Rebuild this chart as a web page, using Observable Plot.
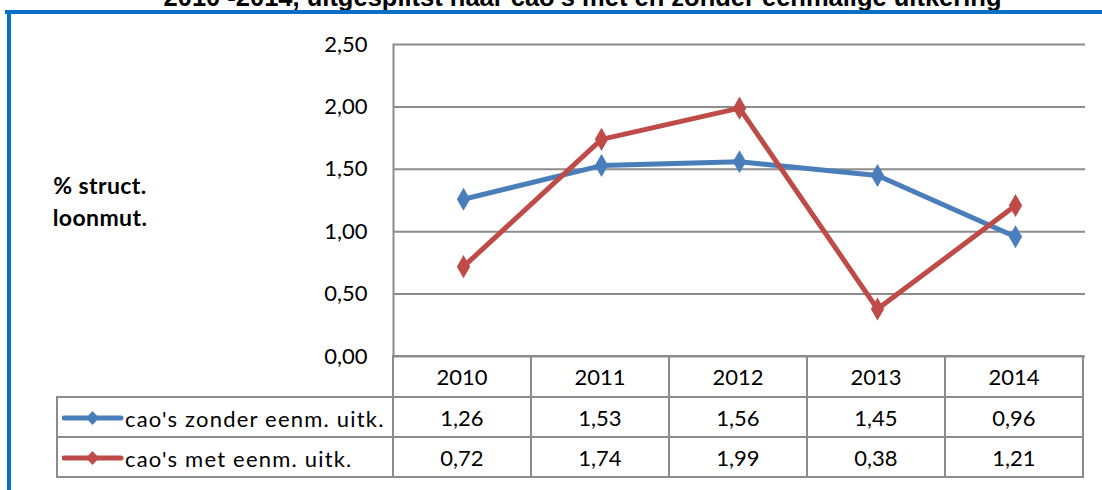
<!DOCTYPE html>
<html><head><meta charset="utf-8">
<script src="https://cdn.jsdelivr.net/npm/d3@7"></script>
<script src="https://cdn.jsdelivr.net/npm/@observablehq/plot@0.6"></script>
<style>
html,body{margin:0;padding:0;background:#fff;}
#wrap{position:relative;width:1102px;height:490px;overflow:hidden;background:#fff;font-family:Lato,"Open Sans",sans-serif;}
#title{position:absolute;left:0;width:1165px;top:-14.6px;text-align:center;font:bold 25.5px "Liberation Sans",Arial,sans-serif;line-height:1;color:#000;white-space:nowrap;}
#btop{position:absolute;left:5px;right:0;top:10px;height:3.5px;background:#0a70c4;}
#bleft{position:absolute;left:7px;top:10px;bottom:0;width:4px;background:#0a70c4;}
#ylab{position:absolute;left:30px;width:140px;top:169px;text-align:center;font:bold 23px Lato,sans-serif;letter-spacing:0.4px;line-height:32px;color:#000;}
#plot{position:absolute;left:0;top:0;}
table{position:absolute;border-collapse:collapse;font-family:Lato,sans-serif;font-size:22px;color:#000;table-layout:fixed;}
td{border:2px solid #8c8c8c;text-align:center;padding:0;}
td.leg{text-align:left;white-space:nowrap;letter-spacing:1.2px;}
td.blank{border-top:none;border-left:none;}
</style></head>
<body><div id="wrap">
<div id="title">2010 -2014, uitgesplitst naar cao's met en zonder eenmalige uitkering</div>
<div id="btop"></div><div id="bleft"></div>
<div id="ylab">% struct.<br>loonmut.</div>
</div>
<script>
const years = ["2010","2011","2012","2013","2014"];
const seriesNames = ["cao's zonder eenm. uitk.","cao's met eenm. uitk."];
const zonder = [1.26,1.53,1.56,1.45,0.96];
const met = [0.72,1.74,1.99,0.38,1.21];
const yTicks = [0,0.5,1,1.5,2,2.5];
const colors = ["#4a7ebb","#be4b48"];

const fmt = d => d.toFixed(2).replace(".", ",");
const data = [
  ...years.map((y,i)=>({year:y, value:zonder[i], s:seriesNames[0]})),
  ...years.map((y,i)=>({year:y, value:met[i], s:seriesNames[1]}))
];

const plot = Plot.plot({
  width:1102, height:490,
  marginLeft:393, marginRight:17, marginTop:44, marginBottom:134,
  style:{background:"transparent", fontFamily:"Lato, sans-serif"},
  x:{type:"point", domain:years, padding:0.5, axis:null},
  y:{domain:[0,2.5]},
  color:{domain:seriesNames, range:colors},
  marks:[
    Plot.ruleY(yTicks, {stroke:"#8c8c8c", strokeWidth:2}),
    Plot.axisY({ticks:yTicks, tickFormat:fmt, tickSize:0, tickPadding:26, fontSize:22, fill:"#000", label:null}),
    Plot.frame({anchor:"left", stroke:"#8c8c8c", strokeWidth:2}),
    Plot.line(data, {x:"year", y:"value", stroke:"s", z:"s", strokeWidth:5}),
    Plot.dot(data, {x:"year", y:"value", fill:"s", symbol:"diamond", r:7})
  ]
});
plot.id = "plot";
document.getElementById("wrap").appendChild(plot);

// table aligned with the plot's x scale
const xs = plot.scale("x");
const step = xs.step;
const left0 = xs.range[0]; // left edge of first column
const legW = left0 - 57;
const tbl = document.createElement("table");
tbl.style.left = (57 - 1) + "px";
tbl.style.top = (plot.scale("y").range[0] - 1) + "px";
const cg = document.createElement("colgroup");
[legW, ...years.map(()=>step)].forEach(w=>{const c=document.createElement("col"); c.style.width=w+"px"; cg.appendChild(c);});
tbl.appendChild(cg);
const hr = tbl.insertRow();
hr.style.height="41px";
const b = hr.insertCell(); b.className="blank";
years.forEach(y=>{hr.insertCell().textContent=y;});
[zonder, met].forEach((vals,k)=>{
  const r = tbl.insertRow(); r.style.height = "40px";
  const c = r.insertCell(); c.className="leg";
  c.innerHTML = `<svg width="62" height="20" style="vertical-align:middle;margin-left:4px;margin-right:1px"><line x1="2" y1="10" x2="59" y2="10" stroke="${colors[k]}" stroke-width="5" stroke-linecap="round"/><path d="M30.5,3 L37,10 L30.5,17 L24,10 Z" fill="${colors[k]}"/></svg><span style="vertical-align:middle">${seriesNames[k]}</span>`;
  vals.forEach(v=>{r.insertCell().textContent=fmt(v);});
});
tbl.style.width = (legW + step*years.length) + "px";
document.getElementById("wrap").appendChild(tbl);
</script>
</body></html>
